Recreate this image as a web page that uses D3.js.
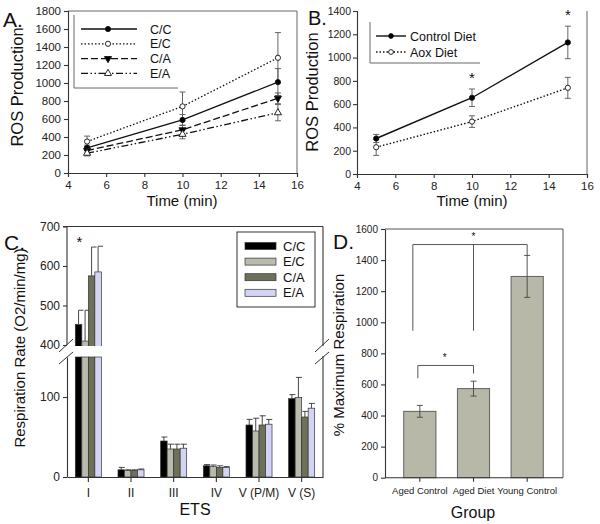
<!DOCTYPE html>
<html><head><meta charset="utf-8">
<script src="https://cdn.jsdelivr.net/npm/d3@7/dist/d3.min.js"></script>
<style>
body{margin:0;background:#fff;}
svg{display:block;font-family:"Liberation Sans",Arial,sans-serif;}
</style></head>
<body><svg id="c" width="600" height="524"></svg>
<script>
// ---------- DATA ----------
const timePoints = [5, 10, 15];
const xTicksTime = [4, 6, 8, 10, 12, 14, 16];
// Panel A
const seriesA = ["C/C", "E/C", "C/A", "E/A"];
const rosCC = [280, 590, 1010], errCC = [30, 60, 150];
const rosEC = [350, 740, 1280], errEC = [60, 160, 280];
const rosCA = [250, 480, 830],  errCA = [30, 50, 60];
const rosEA = [220, 430, 670],  errEA = [30, 50, 90];
const yTicksA = [0, 200, 400, 600, 800, 1000, 1200, 1400, 1600, 1800];
// Panel B
const seriesB = ["Control Diet", "Aox Diet"];
const rosControl = [305, 655, 1130], errControl = [35, 75, 140];
const rosAox = [230, 450, 740],      errAox = [70, 50, 90];
const sigB = [false, true, true];
const yTicksB = [0, 200, 400, 600, 800, 1000, 1200, 1400];
// Panel C
const categoriesC = ["I", "II", "III", "IV", "V (P/M)", "V (S)"];
const seriesC = ["C/C", "E/C", "C/A", "E/A"];
const respCC = [452, 9, 45, 14, 65, 98],    errRespCC = [36, 3, 5, 1.5, 7, 5];
const respEC = [410, 8, 35, 13, 57.5, 99.5], errRespEC = [78, 1, 6, 2, 16, 25];
const respCA = [575, 8, 35, 12, 65, 75],    errRespCA = [73, 1, 6, 2, 11.5, 7];
const respEA = [585, 9, 36, 12, 66, 86],    errRespEA = [65, 1, 5, 1, 6, 6];
const sigC = [true, false, false, false, false, false];
const yTicksCLow = [0, 100];
const yTicksCHigh = [400, 500, 600, 700];
// Panel D
const groupsD = ["Aged Control", "Aged Diet", "Young Control"];
const pctMax = [427, 573, 1295];
const errPct = [38, 48, 135];
const yTicksD = [0, 200, 400, 600, 800, 1000, 1200, 1400, 1600];

// ---------- HELPERS ----------
const svg = d3.select("#c");
const FONT = '"Liberation Sans",Arial,sans-serif';
const fmt = d3.format("d");
function styleAxis(g, fs) {
  g.selectAll("path.domain").attr("stroke", "#333").attr("stroke-width", 1.1);
  g.selectAll(".tick line").attr("stroke", "#333").attr("stroke-width", 1.1);
  g.selectAll(".tick text").attr("font-size", fs).attr("font-family", FONT).attr("fill", "#222");
}
function txt(x, y, s, fs, opts = {}) {
  const t = svg.append("text").attr("x", x).attr("y", y).text(s)
    .attr("font-size", fs).attr("fill", "#111").attr("font-family", FONT)
    .attr("text-anchor", opts.anchor || "start");
  if (opts.rotate) t.attr("transform", `rotate(-90,${x},${y})`);
  return t;
}

// ---------- PANEL A ----------
(function () {
  const x = d3.scaleLinear().domain([4, 16]).range([68, 297]);
  const y = d3.scaleLinear().domain([0, 1800]).range([173, 11]);
  const g = svg.append("g");
  g.append("line").attr("x1", x(4)).attr("x2", x(16)).attr("y1", y(1800)).attr("y2", y(1800)).attr("stroke", "#666").attr("stroke-width", 1);
  g.append("line").attr("x1", x(16)).attr("x2", x(16)).attr("y1", y(1800)).attr("y2", y(0)).attr("stroke", "#666").attr("stroke-width", 1);
  const ax = g.append("g").attr("transform", `translate(0,${y(0)})`).call(d3.axisBottom(x).tickValues(xTicksTime).tickFormat(fmt).tickSize(4).tickPadding(4));
  styleAxis(ax, 11.5);
  const ay = g.append("g").attr("transform", `translate(${x(4)},0)`).call(d3.axisLeft(y).tickValues(yTicksA).tickFormat(fmt).tickSize(4).tickPadding(3));
  styleAxis(ay, 11.5);
  const data = [
    { name: seriesA[0], v: rosCC, e: errCC, dash: null, shape: "circle", fill: "#000" },
    { name: seriesA[1], v: rosEC, e: errEC, dash: "1.5,2", shape: "circle", fill: "#fff" },
    { name: seriesA[2], v: rosCA, e: errCA, dash: "7,3", shape: "tridown", fill: "#000" },
    { name: seriesA[3], v: rosEA, e: errEA, dash: "7,2.5,1.5,2.5,1.5,2.5", shape: "triup", fill: "#fff" }
  ];
  const line = d3.line().x((d, i) => x(timePoints[i])).y(d => y(d));
  data.forEach(s => {
    s.v.forEach((v, i) => {
      const cx = x(timePoints[i]);
      g.append("line").attr("x1", cx).attr("x2", cx).attr("y1", y(v - s.e[i])).attr("y2", y(v + s.e[i])).attr("stroke", "#555").attr("stroke-width", 0.9);
      [v - s.e[i], v + s.e[i]].forEach(t => g.append("line").attr("x1", cx - 3).attr("x2", cx + 3).attr("y1", y(t)).attr("y2", y(t)).attr("stroke", "#555").attr("stroke-width", 0.9));
    });
    g.append("path").datum(s.v).attr("d", line).attr("fill", "none").attr("stroke", "#111").attr("stroke-width", 1.3).attr("stroke-dasharray", s.dash);
  });
  function marker(gg, shape, cx, cy, fill) {
    if (shape === "circle") gg.append("circle").attr("cx", cx).attr("cy", cy).attr("r", 2.6).attr("fill", fill).attr("stroke", "#111").attr("stroke-width", 0.9);
    else {
      const sym = d3.symbol().type(d3.symbolTriangle).size(22);
      gg.append("path").attr("d", sym()).attr("transform", `translate(${cx},${cy}) rotate(${shape === "tridown" ? 180 : 0})`).attr("fill", fill).attr("stroke", "#111").attr("stroke-width", 0.9);
    }
  }
  data.forEach(s => s.v.forEach((v, i) => marker(g, s.shape, x(timePoints[i]), y(v), s.fill)));
  g.append("line").attr("x1", 74).attr("x2", 74).attr("y1", 15).attr("y2", 88).attr("stroke", "#666");
  g.append("line").attr("x1", 74).attr("x2", 178).attr("y1", 88).attr("y2", 88).attr("stroke", "#666");
  data.forEach((s, i) => {
    const ly = 29 + i * 14.8;
    g.append("line").attr("x1", 81).attr("x2", 137).attr("y1", ly).attr("y2", ly).attr("stroke", "#111").attr("stroke-width", 1.3).attr("stroke-dasharray", s.dash);
    marker(g, s.shape, 108, ly, s.fill);
    txt(150, ly + 4.5, s.name, 12.5);
  });
  txt(3, 27, "A.", 21);
  txt(18, 87, "ROS Production", 16.5, { anchor: "middle", rotate: true }).attr("dy", 5);
  txt(182, 206, "Time (min)", 15, { anchor: "middle" });
})();

// ---------- PANEL B ----------
(function () {
  const x = d3.scaleLinear().domain([4, 16]).range([357, 587]);
  const y = d3.scaleLinear().domain([0, 1400]).range([174, 11]);
  const g = svg.append("g");
  g.append("line").attr("x1", x(16)).attr("x2", x(16)).attr("y1", y(1400)).attr("y2", y(0)).attr("stroke", "#666").attr("stroke-width", 1);
  const ax = g.append("g").attr("transform", `translate(0,${y(0)})`).call(d3.axisBottom(x).tickValues(xTicksTime).tickFormat(fmt).tickSize(4).tickPadding(4));
  styleAxis(ax, 11.5);
  const ay = g.append("g").attr("transform", `translate(${x(4)},0)`).call(d3.axisLeft(y).tickValues(yTicksB).tickFormat(fmt).tickSize(4).tickPadding(2));
  styleAxis(ay, 10.5);
  const data = [
    { name: seriesB[0], v: rosControl, e: errControl, dash: null, fill: "#000" },
    { name: seriesB[1], v: rosAox, e: errAox, dash: "1.5,2", fill: "#fff" }
  ];
  const line = d3.line().x((d, i) => x(timePoints[i])).y(d => y(d));
  data.forEach(s => {
    s.v.forEach((v, i) => {
      const cx = x(timePoints[i]);
      g.append("line").attr("x1", cx).attr("x2", cx).attr("y1", y(v - s.e[i])).attr("y2", y(v + s.e[i])).attr("stroke", "#555").attr("stroke-width", 0.9);
      [v - s.e[i], v + s.e[i]].forEach(t => g.append("line").attr("x1", cx - 3).attr("x2", cx + 3).attr("y1", y(t)).attr("y2", y(t)).attr("stroke", "#555").attr("stroke-width", 0.9));
    });
    g.append("path").datum(s.v).attr("d", line).attr("fill", "none").attr("stroke", "#111").attr("stroke-width", 1.4).attr("stroke-dasharray", s.dash);
  });
  data.forEach(s => s.v.forEach((v, i) => g.append("circle").attr("cx", x(timePoints[i])).attr("cy", y(v)).attr("r", 2.6).attr("fill", s.fill).attr("stroke", "#111").attr("stroke-width", 0.9)));
  sigB.forEach((sg, i) => { if (sg) txt(x(timePoints[i]), y(rosControl[i] + errControl[i] + 120) + 8, "*", 15, { anchor: "middle" }); });
  g.append("line").attr("x1", 370).attr("x2", 370).attr("y1", 22).attr("y2", 63).attr("stroke", "#666");
  g.append("line").attr("x1", 370).attr("x2", 480).attr("y1", 63).attr("y2", 63).attr("stroke", "#666");
  data.forEach((s, i) => {
    const ly = 36 + i * 16;
    g.append("line").attr("x1", 376).attr("x2", 406).attr("y1", ly).attr("y2", ly).attr("stroke", "#111").attr("stroke-width", 1.4).attr("stroke-dasharray", s.dash);
    g.append("circle").attr("cx", 391).attr("cy", ly).attr("r", 2.4).attr("fill", s.fill).attr("stroke", "#111").attr("stroke-width", 0.9);
    txt(410, ly + 4.5, s.name, 12.5);
  });
  txt(308, 25, "B.", 20);
  txt(313, 92, "ROS Production", 16.5, { anchor: "middle", rotate: true }).attr("dy", 5);
  txt(472, 206, "Time (min)", 15, { anchor: "middle" });
})();

// ---------- PANEL C ----------
(function () {
  const L = 67, R = 323;
  const x = d3.scaleBand().domain(categoriesC).range([L, R]).paddingInner(0.39).paddingOuter(0.195);
  const xs = d3.scaleBand().domain(seriesC).range([0, x.bandwidth()]);
  const yLow = d3.scaleLinear().domain([0, 150]).range([477, 357]);
  const yHigh = d3.scaleLinear().domain([400, 700]).range([345, 226.5]);
  const colors = ["#000000", "#b9bbac", "#6f705a", "#d3d4f4"];
  const vals = [respCC, respEC, respCA, respEA];
  const errs = [errRespCC, errRespEC, errRespCA, errRespEA];
  const g = svg.append("g");
  g.append("line").attr("x1", L).attr("x2", R).attr("y1", yHigh(700)).attr("y2", yHigh(700)).attr("stroke", "#333").attr("stroke-width", 1.1);
  g.append("line").attr("x1", R).attr("x2", R).attr("y1", yHigh(700)).attr("y2", yLow(0)).attr("stroke", "#333").attr("stroke-width", 1.1);
  seriesC.forEach((s, si) => {
    categoriesC.forEach((c, ci) => {
      const v = vals[si][ci], e = errs[si][ci];
      const bx = x(c) + xs(s), bw = xs.bandwidth();
      const cx = bx + bw / 2;
      if (v > 150) {
        g.append("rect").attr("x", bx).attr("width", bw).attr("y", yLow(150)).attr("height", yLow(0) - yLow(150)).attr("fill", colors[si]).attr("stroke", "#333").attr("stroke-width", 0.7);
        g.append("rect").attr("x", bx).attr("width", bw).attr("y", yHigh(v)).attr("height", yHigh(400) - yHigh(v) + 3).attr("fill", colors[si]).attr("stroke", "#333").attr("stroke-width", 0.7);
        g.append("line").attr("x1", cx).attr("x2", cx).attr("y1", yHigh(v)).attr("y2", yHigh(v + e)).attr("stroke", "#333").attr("stroke-width", 0.9);
        g.append("line").attr("x1", cx).attr("x2", cx + 5).attr("y1", yHigh(v + e)).attr("y2", yHigh(v + e)).attr("stroke", "#333").attr("stroke-width", 0.9);
      } else {
        g.append("rect").attr("x", bx).attr("width", bw).attr("y", yLow(v)).attr("height", yLow(0) - yLow(v)).attr("fill", colors[si]).attr("stroke", "#333").attr("stroke-width", 0.7);
        g.append("line").attr("x1", cx).attr("x2", cx).attr("y1", yLow(v)).attr("y2", yLow(v + e)).attr("stroke", "#333").attr("stroke-width", 0.9);
        g.append("line").attr("x1", cx - 2.5).attr("x2", cx + 3.5).attr("y1", yLow(v + e)).attr("y2", yLow(v + e)).attr("stroke", "#333").attr("stroke-width", 0.9);
      }
    });
  });
  g.append("rect").attr("x", 50).attr("y", 346).attr("width", 285).attr("height", 10).attr("fill", "#fff");
  const ax = g.append("g").attr("transform", `translate(0,${yLow(0)})`).call(d3.axisBottom(x).tickSize(5).tickPadding(6).tickSizeOuter(0));
  styleAxis(ax, 12);
  const ayL = g.append("g").attr("transform", `translate(${L},0)`).call(d3.axisLeft(yLow).tickValues(yTicksCLow).tickFormat(fmt).tickSize(4).tickPadding(3).tickSizeOuter(0));
  styleAxis(ayL, 12);
  const ayH = g.append("g").attr("transform", `translate(${L},0)`).call(d3.axisLeft(yHigh).tickValues(yTicksCHigh).tickFormat(fmt).tickSize(4).tickPadding(3).tickSizeOuter(0));
  styleAxis(ayH, 12);
  ayH.select("path.domain").attr("d", `M-4,${yHigh(700)}H0V${yHigh(400)}`);
  [L, R].forEach(bxp => {
    g.append("line").attr("x1", bxp - 8).attr("x2", bxp + 6).attr("y1", 352).attr("y2", 339).attr("stroke", "#333").attr("stroke-width", 1);
    g.append("line").attr("x1", bxp - 8).attr("x2", bxp + 6).attr("y1", 364).attr("y2", 352).attr("stroke", "#333").attr("stroke-width", 1);
  });
  sigC.forEach((sg, i) => { if (sg) txt(x(categoriesC[i]) + 4, yHigh(668) + 8, "*", 15, { anchor: "middle" }); });
  g.append("rect").attr("x", 237).attr("y", 232).attr("width", 78).attr("height", 75).attr("fill", "#fff").attr("stroke", "#333").attr("stroke-width", 1);
  seriesC.forEach((s, i) => {
    const ly = 246 + i * 15.6;
    g.append("rect").attr("x", 245).attr("y", ly - 3.5).attr("width", 31).attr("height", 7).attr("fill", colors[i]).attr("stroke", "#333").attr("stroke-width", 0.7);
    txt(283, ly + 4.5, s, 13);
  });
  txt(4, 250, "C.", 21);
  txt(20, 348, "Respiration Rate (O2/min/mg)", 15, { anchor: "middle", rotate: true }).attr("dy", 5);
  txt(195, 515, "ETS", 16, { anchor: "middle" });
})();

// ---------- PANEL D ----------
(function () {
  const L = 385, R = 563;
  const x = d3.scaleBand().domain(groupsD).range([393, 554]).paddingInner(0.4).paddingOuter(0.2);
  const y = d3.scaleLinear().domain([0, 1600]).range([477.7, 229]);
  const g = svg.append("g");
  g.append("line").attr("x1", L).attr("x2", R).attr("y1", y(1600)).attr("y2", y(1600)).attr("stroke", "#555").attr("stroke-width", 1);
  g.append("line").attr("x1", R).attr("x2", R).attr("y1", y(1600)).attr("y2", y(0)).attr("stroke", "#555").attr("stroke-width", 1);
  groupsD.forEach((gr, i) => {
    const bx = x(gr), bw = x.bandwidth(), cx = bx + bw / 2;
    g.append("rect").attr("x", bx).attr("width", bw).attr("y", y(pctMax[i])).attr("height", y(0) - y(pctMax[i])).attr("fill", "#b7b8a8").attr("stroke", "#555").attr("stroke-width", 0.9);
    const lo = pctMax[i] - errPct[i], hi = pctMax[i] + errPct[i];
    g.append("line").attr("x1", cx).attr("x2", cx).attr("y1", y(lo)).attr("y2", y(hi)).attr("stroke", "#444").attr("stroke-width", 0.9);
    [lo, hi].forEach(t => g.append("line").attr("x1", cx - 3).attr("x2", cx + 3).attr("y1", y(t)).attr("y2", y(t)).attr("stroke", "#444").attr("stroke-width", 0.9));
  });
  const cxs = groupsD.map(gr => x(gr) + x.bandwidth() / 2);
  const b1 = 1500;
  g.append("path").attr("d", `M${cxs[0] - 7},${y(945)}V${y(b1)}H${cxs[2]}V${y(pctMax[2] + errPct[2])}`).attr("fill", "none").attr("stroke", "#444").attr("stroke-width", 0.9);
  g.append("line").attr("x1", cxs[1]).attr("x2", cxs[1]).attr("y1", y(b1)).attr("y2", y(945)).attr("stroke", "#444").attr("stroke-width", 0.9);
  txt(cxs[1], y(1560) + 5, "*", 10, { anchor: "middle" });
  const b2 = 722;
  g.append("path").attr("d", `M${cxs[0] - 2},${y(640)}V${y(b2)}H${cxs[1]}V${y(670)}`).attr("fill", "none").attr("stroke", "#444").attr("stroke-width", 0.9);
  txt((cxs[0] + cxs[1]) / 2 - 2, y(785) + 5, "*", 10, { anchor: "middle" });
  const ax = g.append("g").attr("transform", `translate(0,${y(0)})`).call(d3.axisBottom(x).tickSize(4).tickPadding(6).tickSizeOuter(0));
  ax.select("path.domain").attr("d", `M${L},0H${R}`);
  styleAxis(ax, 9.5);
  const ay = g.append("g").attr("transform", `translate(${L},0)`).call(d3.axisLeft(y).tickValues(yTicksD).tickFormat(fmt).tickSize(4).tickPadding(3).tickSizeOuter(0));
  styleAxis(ay, 10);
  txt(333, 249, "D.", 21);
  txt(339, 355, "% Maximum Respiration", 15, { anchor: "middle", rotate: true }).attr("dy", 5);
  txt(473, 518, "Group", 16, { anchor: "middle" });
})();
</script></body></html>
